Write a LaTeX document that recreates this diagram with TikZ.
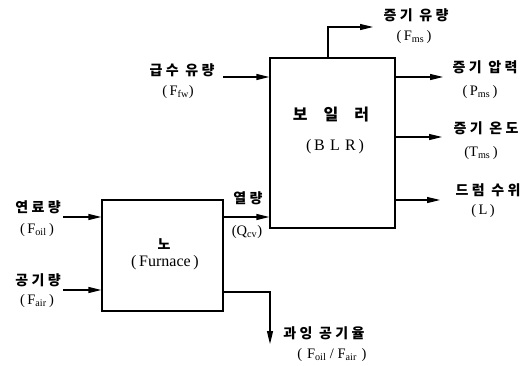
\documentclass[tikz,border=0pt]{standalone}
\usepackage{fontspec}
\setmainfont{Liberation Serif}
\newfontfamily\kr[LetterSpace=24]{Noto Sans CJK KR}
\usetikzlibrary{arrows.meta}
\begin{document}
\begin{tikzpicture}[x=1pt,y=-1pt,
  box/.style={draw, line width=1.2pt, inner sep=0pt},
  flow/.style={line width=1.2pt, -{Triangle[length=13pt,width=6pt]}},
  lbl/.style={font=\kr\bfseries\fontsize{14}{16}\selectfont, inner sep=0pt},
  sub/.style={font=\fontsize{14.5}{16}\selectfont, inner sep=0pt}]
\useasboundingbox (0,0) rectangle (531,365);

% boxes
\node[box, minimum width=125pt, minimum height=170pt] (blr) at (332.5,143) {};
\node[box, minimum width=121pt, minimum height=111pt] (fur) at (162.5,255.5) {};

% box texts
\node[font=\kr\bfseries\fontsize{16}{18}\selectfont, inner sep=0pt] (blrk) at (331,115) {보\hspace{16pt}일\hspace{16pt}러};
\node[font=\fontsize{16}{18}\selectfont, inner sep=0pt] (blre) at (335,147) {(\,B\,\,L\,\,R\,)};
\node[font=\kr\bfseries\fontsize{14}{16}\selectfont, inner sep=0pt] (furk) at (164,244) {노};
\node[font=\fontsize{16}{18}\selectfont, inner sep=0pt] (fure) at (165,263) {(\,Furnace\,)};

% free ends
\coordinate (fwS) at (223,77);
\coordinate (msE) at (373,27);
\coordinate (pmsE) at (443,77);
\coordinate (tmsE) at (442,137);
\coordinate (lE) at (440,200);
\coordinate (oilS) at (63,217);
\coordinate (airS) at (63,290);
\coordinate (qy) at (0,217);
\coordinate (exy) at (0,292);
\coordinate (exE) at (270,344);

% connectors
\draw[flow] (fwS) -- (blr.west |- fwS);
\draw[flow] ([xshift=-4.5pt]blr.north) |- (msE);
\draw[flow] (blr.east |- pmsE) -- (pmsE);
\draw[flow] (blr.east |- tmsE) -- (tmsE);
\draw[flow] (blr.east |- lE) -- (lE);
\draw[flow] (oilS) -- (fur.west |- oilS);
\draw[flow] (airS) -- (fur.west |- airS);
\draw[flow] (fur.east |- qy) -- (blr.west |- qy);
\draw[flow] (fur.east |- exy) -| (exE);

% labels
\node[lbl] (fwk) at (182,70) {급수 유량};
\node[sub] (fwe) at (178,92) {(\,F\textsubscript{fw})};
\node[lbl] (msk) at (416,15) {증기 유량};
\node[sub] (mse) at (414,37) {(\,F\textsubscript{ms}\,)};
\node[lbl] (pmsk) at (485,67) {증기 압력};
\node[sub] (pmse) at (480,92) {(\,P\textsubscript{ms}\,)};
\node[lbl] (tmsk) at (486,128) {증기 온도};
\node[sub] (tmse) at (481,153) {(T\textsubscript{ms}\,)};
\node[lbl] (lk) at (488,190) {드럼 수위};
\node[sub] (le) at (483,211) {(\,L\,)};
\node[lbl] (oilk) at (38,207) {연료량};
\node[sub] (oile) at (37,230) {(\,F\textsubscript{oil}\,)};
\node[lbl] (airk) at (38,280) {공기량};
\node[sub] (aire) at (37,301) {(\,F\textsubscript{air}\,)};
\node[lbl] (qk) at (248,198) {열량};
\node[sub] (qe) at (247,232) {(Q\textsubscript{cv})};
\node[lbl] (exk) at (324,333) {과잉 공기율};
\node[sub] (exe) at (332,355) {(\,\,F\textsubscript{oil} / F\textsubscript{air}\,\,)};
\end{tikzpicture}
\end{document}
